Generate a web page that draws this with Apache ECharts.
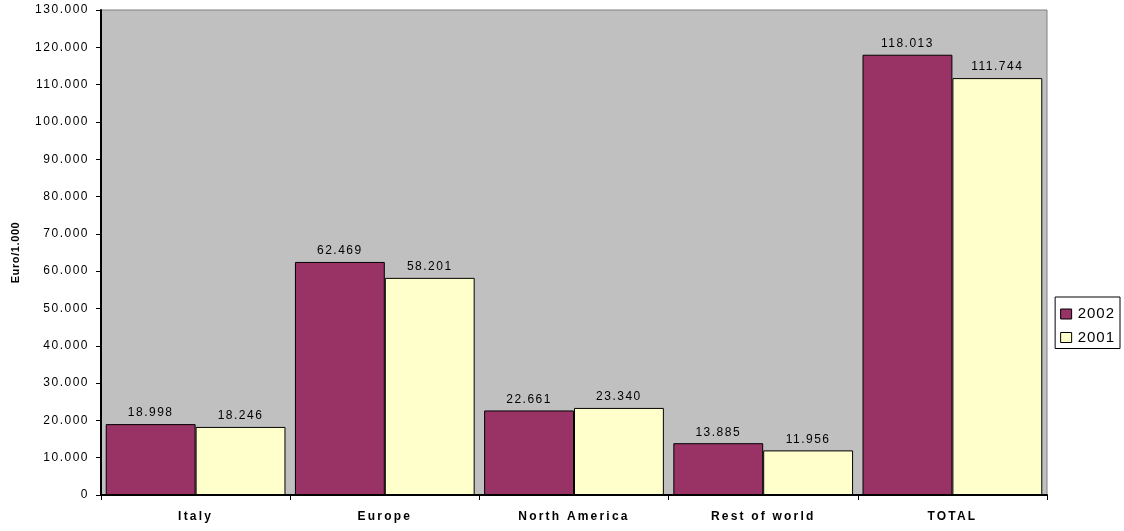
<!DOCTYPE html>
<html>
<head>
<meta charset="utf-8">
<script src="https://cdn.jsdelivr.net/npm/echarts@6/dist/echarts.min.js"></script>
<style>
  html, body { margin: 0; padding: 0; background: #fff; }
  #chart { width: 1124px; height: 531px; }
</style>
</head>
<body>
<div id="chart"></div>
<script>
// Revenue by area, thousands of euro
const categories = ['Italy', 'Europe', 'North America', 'Rest of world', 'TOTAL'];
const values2002 = [18998, 62469, 22661, 13885, 118013];
const values2001 = [18246, 58201, 23340, 11956, 111744];
const seriesNames = ['2002', '2001'];

// Thousands separator with a dot: 118013 -> 118.013
function fmt(v) {
  return String(Math.round(v)).replace(/\B(?=(\d{3})+(?!\d))/g, '.');
}

const FONT = '"Liberation Sans", Arial, sans-serif';

// Wide, spaced-out lettering: apply canvas letter spacing per font size/weight
(function () {
  const proto = CanvasRenderingContext2D.prototype;
  const origFill = proto.fillText;
  proto.fillText = function (text, x, y, maxW) {
    const f = this.font || '';
    let sp = '1.5px';
    if (/15px/.test(f)) sp = '1px';
    else if (/bold/.test(f) && /12px/.test(f)) sp = '2.2px';
    else if (/bold/.test(f)) sp = '0.6px';
    const prev = this.letterSpacing;
    this.letterSpacing = sp;
    if (maxW === undefined) origFill.call(this, text, x, y);
    else origFill.call(this, text, x, y, maxW);
    this.letterSpacing = prev || '0px';
  };
})();

const chart = echarts.init(document.getElementById('chart'), null, { renderer: 'canvas' });

const labelCfg = {
  show: true,
  position: 'top',
  distance: 5,
  color: '#000',
  fontFamily: FONT,
  fontSize: 12,
  formatter: p => fmt(p.value)
};

chart.setOption({
  animation: false,
  backgroundColor: '#fff',
  grid: {
    left: 101, right: 77, top: 10, bottom: 36,
    show: true, backgroundColor: '#C0C0C0', borderColor: '#808080', borderWidth: 1
  },
  legend: {
    orient: 'vertical',
    right: 4, top: 297,
    itemWidth: 11, itemHeight: 10, itemGap: 7.5,
    padding: [9, 9, 3, 5],
    borderColor: '#000', borderWidth: 1,
    icon: 'rect',
    itemStyle: { borderColor: '#000', borderWidth: 1 },
    textStyle: { fontFamily: FONT, fontSize: 15, lineHeight: 16, color: '#000', padding: [0, 0, 0, 1] },
    data: seriesNames
  },
  xAxis: {
    type: 'category',
    data: categories,
    axisLine: { lineStyle: { color: '#000', width: 2 } },
    axisTick: { show: true, length: 5, lineStyle: { color: '#000', width: 1 } },
    axisLabel: { color: '#000', fontFamily: FONT, fontSize: 12, fontWeight: 'bold', margin: 16 },
    splitLine: { show: false }
  },
  yAxis: {
    type: 'value',
    min: 0, max: 130000, interval: 10000,
    name: 'Euro/1.000',
    nameLocation: 'middle',
    nameGap: 80,
    nameTextStyle: { fontFamily: FONT, fontSize: 11, fontWeight: 'bold', color: '#000' },
    axisLine: { show: true, lineStyle: { color: '#000', width: 2 } },
    axisTick: { show: true, length: 5, lineStyle: { color: '#000', width: 1 } },
    axisLabel: { color: '#000', fontFamily: FONT, fontSize: 12, margin: 12, formatter: v => fmt(v) },
    splitLine: { show: false }
  },
  series: [
    {
      name: seriesNames[0], type: 'bar', data: values2002,
      barGap: '0%', barCategoryGap: '5%',
      itemStyle: { color: '#993366', borderColor: '#000', borderWidth: 1 },
      label: labelCfg
    },
    {
      name: seriesNames[1], type: 'bar', data: values2001,
      barGap: '0%', barCategoryGap: '5%',
      itemStyle: { color: '#FFFFCC', borderColor: '#000', borderWidth: 1 },
      label: labelCfg
    }
  ]
});
</script>
</body>
</html>
